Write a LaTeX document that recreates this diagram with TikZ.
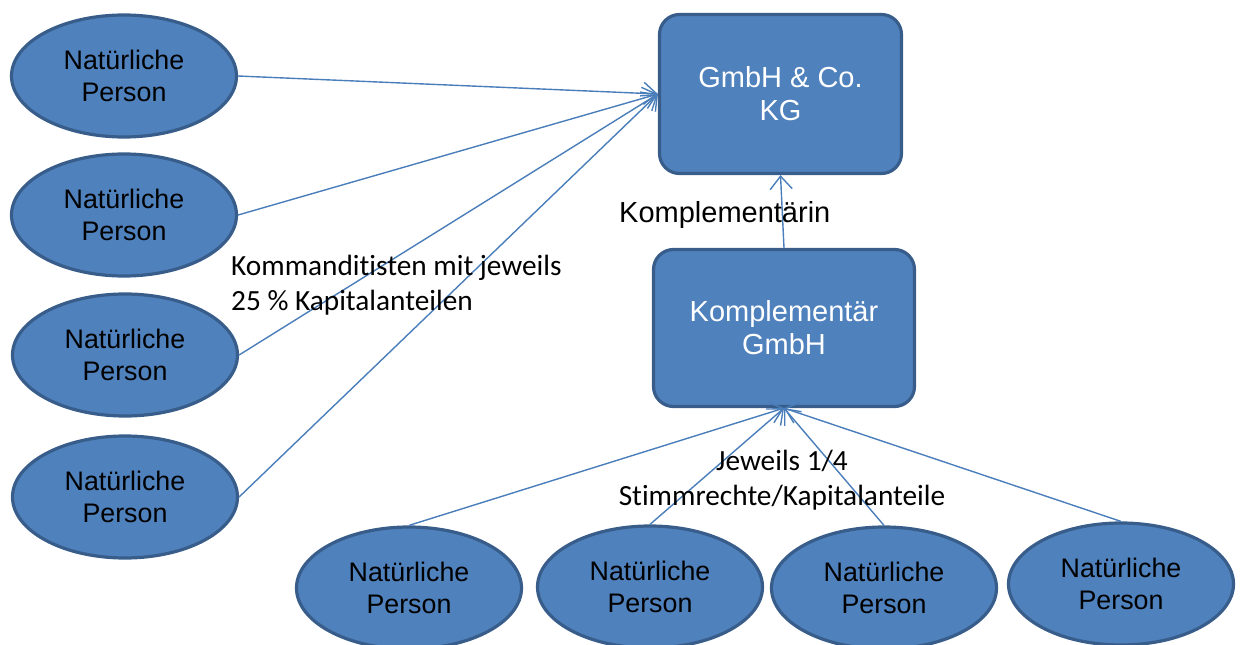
\documentclass[tikz,border=0pt]{standalone}
\usepackage{fontspec}
\setmainfont{Liberation Sans}
\newfontfamily\calibri[RawFeature={-liga;-clig;-calt;-dlig}]{Carlito}
\usetikzlibrary{shapes.geometric,arrows.meta}
\definecolor{fillc}{HTML}{4F81BD}
\definecolor{bordc}{HTML}{385D8A}
\definecolor{linec}{HTML}{4A7EBB}
\tikzset{
  person/.style={ellipse, draw=bordc, fill=fillc, line width=3.2pt, minimum width=225pt, minimum height=122pt, inner sep=0pt, align=center, font=\fontsize{26.8}{32}\selectfont},
  firm/.style={rectangle, rounded corners=20pt, draw=bordc, fill=fillc, line width=3.2pt, text=white, align=center, font=\fontsize{29}{33}\selectfont},
  conn/.style={draw=linec, line width=1.4pt, -{Straight Barb[length=13pt,width=22pt,line width=1.4pt]}},
  lbl/.style={font=\calibri\fontsize{29.3}{35}\selectfont, inner sep=0pt},
  arlbl/.style={font=\fontsize{29}{33}\selectfont, inner sep=0pt}
}
\begin{document}
\begin{tikzpicture}[x=1pt,y=-1pt]
\useasboundingbox (0,0) rectangle (1243,645);
% companies
\node[firm, minimum width=242pt, minimum height=159pt] (g) at (780.5,94) {GmbH \& Co.\\KG};
\node[firm, minimum width=261pt, minimum height=157pt] (k) at (784,328) {Komplementär\\GmbH};
% left persons
\node[person] (p1) at (124,76) {Natürliche\\Person};
\node[person] (p2) at (124,215) {Natürliche\\Person};
\node[person] (p3) at (125,355) {Natürliche\\Person};
\node[person] (p4) at (125,497) {Natürliche\\Person};
% bottom persons
\node[person] (p5) at (409,588) {Natürliche\\Person};
\node[person] (p6) at (650,587) {Natürliche\\Person};
\node[person] (p7) at (884,588) {Natürliche\\Person};
\node[person] (p8) at (1121,584) {Natürliche\\Person};
% connectors
\draw[conn] (p1.east) -- (g.west);
\draw[conn] (p2.east) -- (g.west);
\draw[conn] (p3.east) -- (g.west);
\draw[conn] (p4.east) -- (g.west);
\draw[conn] (k.north) -- (g.south);
\draw[conn] (p5.north) -- (k.south);
\draw[conn] (p6.north) -- (k.south);
\draw[conn] (p7.north) -- (k.south);
\draw[conn] (p8.north) -- (k.south);
% labels
\node[arlbl, anchor=west] (lk) at (619,215) {Komplementärin};
\node[lbl, anchor=west, align=left] (lkom) at (231,285) {Kommanditisten mit jeweils\\25 \% Kapitalanteilen};
\node[lbl, align=center] (lst) at (782,480) {Jeweils 1/4\\Stimmrechte/Kapitalanteile};
\end{tikzpicture}
\end{document}
